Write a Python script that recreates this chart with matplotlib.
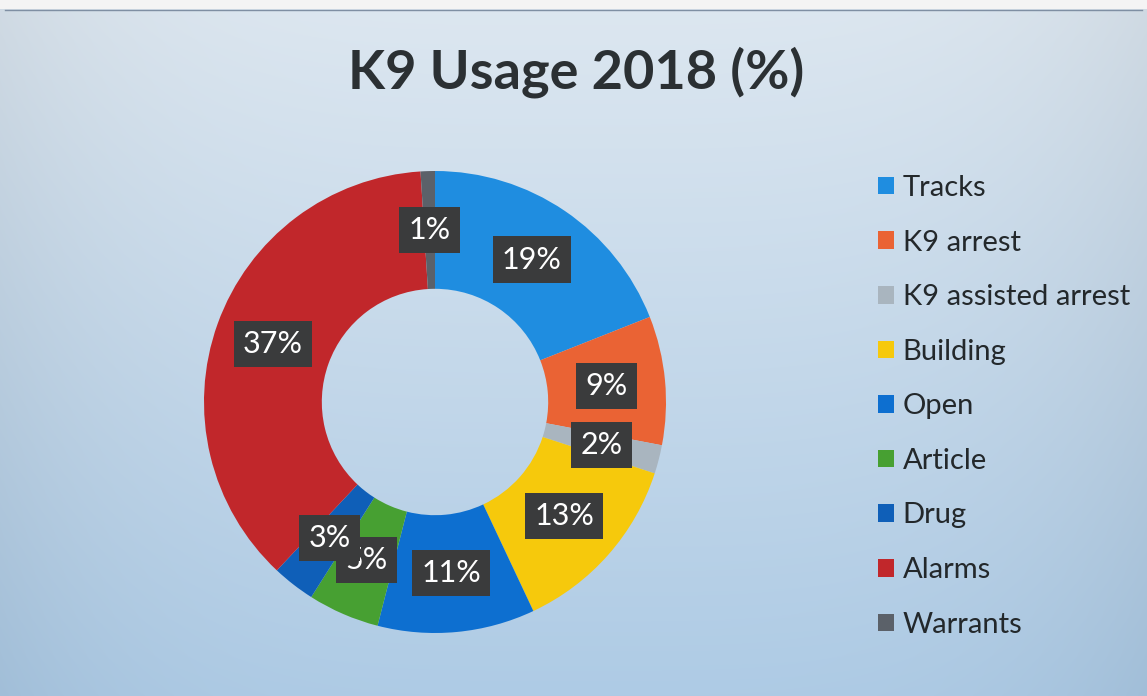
import numpy as np
import matplotlib
matplotlib.use("Agg")
from matplotlib import pyplot as plt
from matplotlib.colors import to_rgb

# K9 usage shares for 2018 (percent), clockwise from 12 o'clock
categories = ["Tracks", "K9 arrest", "K9 assisted arrest", "Building", "Open",
              "Article", "Drug", "Alarms", "Warrants"]
shares = [19, 9, 2, 13, 11, 5, 3, 37, 1]
colors = ["#1f8de0", "#ea6334", "#a9b5bf", "#f6c90c", "#0d6fd0",
          "#47a032", "#0f5fb8", "#c1272b", "#5b6169"]

plt.rcParams['font.family'] = ['Lato', 'DejaVu Sans']

W, H = 1147, 696
fig = plt.figure(figsize=(W / 100, H / 100), dpi=100)

# scanned-looking blue gradient background
bg = fig.add_axes([0, 0, 1, 1], zorder=-10)
bg.axis("off")
top = np.array(to_rgb("#dde7f0"))
bot = np.array(to_rgb("#aecbe5"))
yy = np.linspace(0, 1, H)[:, None, None]
xx = np.linspace(-1, 1, W)[None, :, None]
img = top * (1 - yy) + bot * yy
img = img - 0.05 * xx ** 4
img = np.clip(img, 0, 1)
img[:9, :, :] = 0.96
bg.imshow(img, aspect="auto", extent=[0, 1, 0, 1])
bg.plot([0.004, 0.996], [1 - 10 / H, 1 - 10 / H], color="#7f8fa3", lw=1)
bg.set_xlim(0, 1)
bg.set_ylim(0, 1)

# donut
cx, cy, r = 435, 402, 231
ax = fig.add_axes([(cx - r) / W, (H - cy - r) / H, 2 * r / W, 2 * r / H])
wedges, texts, autotexts = ax.pie(
    shares, colors=colors, startangle=90, counterclock=False,
    autopct='%1.0f%%', pctdistance=0.745,
    wedgeprops=dict(width=0.51, edgecolor="none"))
for t in autotexts:
    t.set_color("white")
    t.set_fontsize(22)
    t.set_bbox(dict(boxstyle="square,pad=0.3", facecolor="#3a3b3c", edgecolor="none"))
ax.set_xlim(-1, 1)
ax.set_ylim(-1, 1)
ax.set_aspect("equal")

fig.text(576 / W, 1 - 72 / H, "K9 Usage 2018 (%)", ha="center", va="center",
         fontsize=39, fontweight="bold", color="#2b3033")

leg = fig.legend(wedges, categories, loc="upper left",
                 bbox_to_anchor=(878 / W, 1 - 175 / H), frameon=False,
                 borderpad=0, borderaxespad=0,
                 fontsize=21, handlelength=0.55, handleheight=0.55,
                 handletextpad=0.3, labelspacing=0.98)
for t in leg.get_texts():
    t.set_color("#23282b")

fig.savefig("out.png", dpi=100)
